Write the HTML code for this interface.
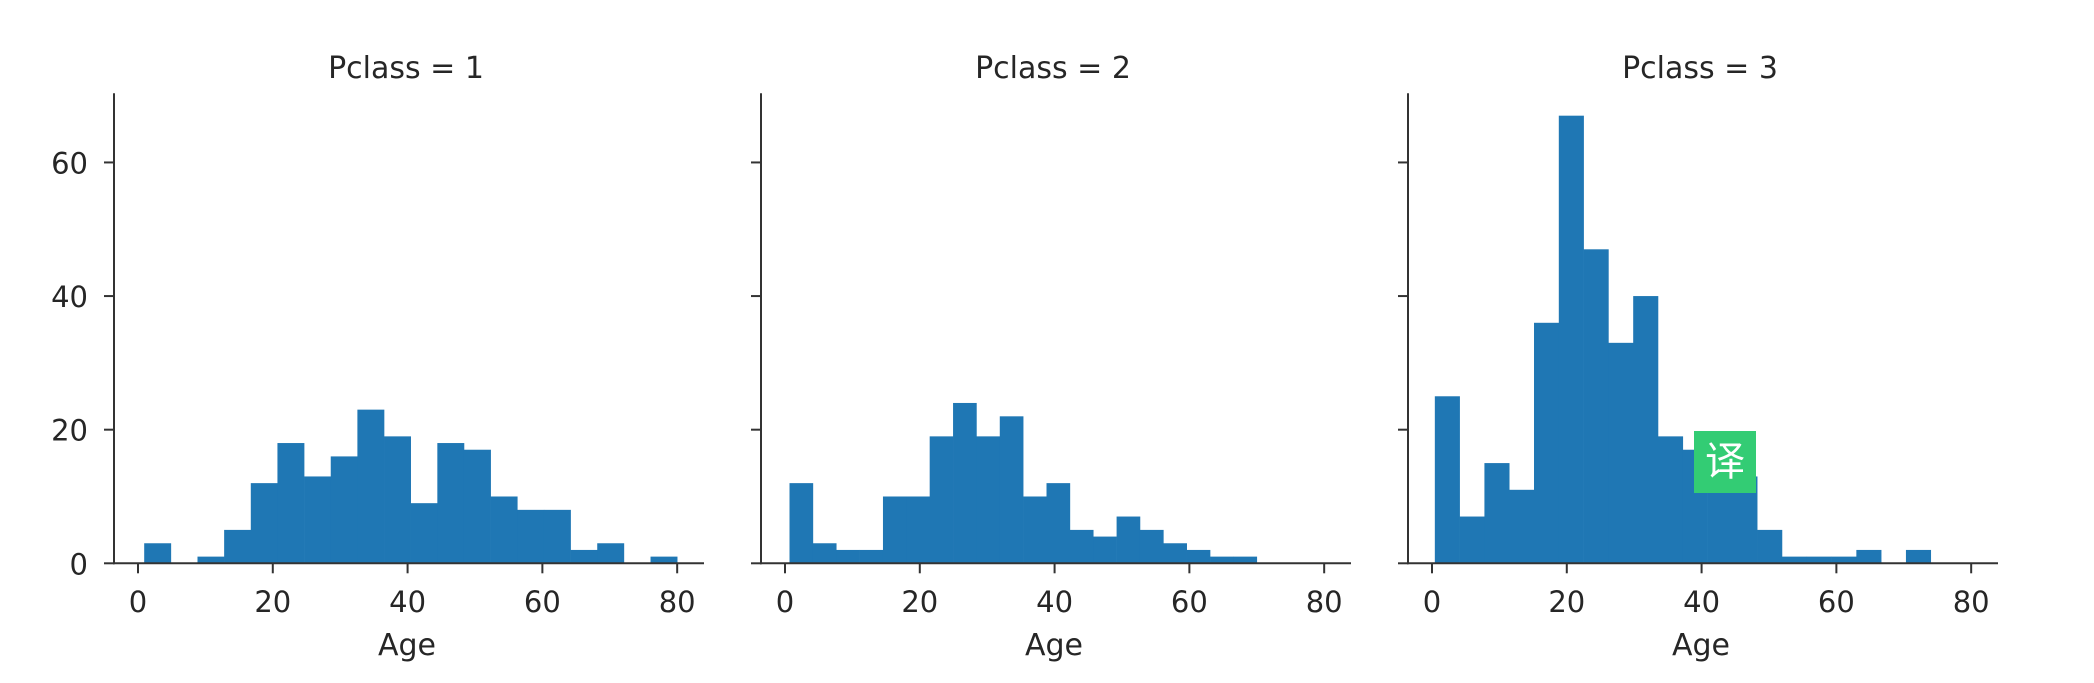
<!DOCTYPE html>
<html>
<head>
<meta charset="utf-8">
<style>
  html, body { margin: 0; padding: 0; background: #fff; }
  body { width: 2094px; height: 678px; overflow: hidden; position: relative; }
  svg text { font-family: "DejaVu Sans", "Liberation Sans", sans-serif; fill: #262626; }
  #badge { position: absolute; left: 1694px; top: 431px; width: 62px; height: 62px; background: #33cc74;
           color: #fff; font-family: "Liberation Sans", "Noto Sans CJK SC", sans-serif; font-size: 40px;
           line-height: 62px; text-align: center; }
</style>
</head>
<body>
<svg id="chart" width="2094" height="678" xmlns="http://www.w3.org/2000/svg"></svg>
<div id="badge">译</div>
<script>
// ---- data ----
const panelTitles = ["Pclass = 1", "Pclass = 2", "Pclass = 3"];
const binMin = [0.92, 0.67, 0.42];
const binMax = [80, 70, 74];
const counts1 = [3, 0, 1, 5, 12, 18, 13, 16, 23, 19, 9, 18, 17, 10, 8, 8, 2, 3, 0, 1];
const counts2 = [12, 3, 2, 2, 10, 10, 19, 24, 19, 22, 10, 12, 5, 4, 7, 5, 3, 2, 1, 1];
const counts3 = [25, 7, 15, 11, 36, 67, 47, 33, 40, 19, 17, 13, 13, 5, 1, 1, 1, 2, 0, 2];
const xTicks = [0, 20, 40, 60, 80];
const yTicks = [0, 20, 40, 60];
const xLabel = "Age";

// ---- layout ----
const allCounts = [counts1, counts2, counts3];
const NS = "http://www.w3.org/2000/svg";
const svg = document.getElementById("chart");
const panelLeft = [114, 761, 1408];
const axW = 590, baseY = 563.3, topY = 93.3;
const xMin = -3.56, xMax = 83.98;
const yMaxVal = Math.max(...allCounts.flat()) * 1.05;
function mk(tag, attrs) { const e = document.createElementNS(NS, tag); for (const k in attrs) e.setAttribute(k, attrs[k]); svg.appendChild(e); return e; }
function yScale(v) { return baseY - v / yMaxVal * (baseY - topY); }

allCounts.forEach((counts, p) => {
  const L = panelLeft[p];
  const xScale = v => L + (v - xMin) / (xMax - xMin) * axW;
  const bw = (binMax[p] - binMin[p]) / counts.length;
  counts.forEach((c, i) => {
    if (c <= 0) return;
    const x0 = xScale(binMin[p] + i * bw), x1 = xScale(binMin[p] + (i + 1) * bw);
    const r = mk("rect", { x: x0, y: yScale(c), width: x1 - x0 + 0.3, height: baseY - yScale(c), fill: "#1f77b4" });
    
    
  });
  // spines
  const ys = mk("line", { x1: L, y1: topY, x2: L, y2: baseY + 1, stroke: "#333", "stroke-width": 2 });
  
  
  const xs = mk("line", { x1: L - 1, y1: baseY, x2: L + axW, y2: baseY, stroke: "#333", "stroke-width": 2 });
  
  
  // x ticks
  xTicks.forEach(t => {
    const x = xScale(t);
    const tk = mk("line", { x1: x, y1: baseY, x2: x, y2: baseY + 10, stroke: "#333", "stroke-width": 2 });
    
    
    const tl = mk("text", { x: x, y: 612, "font-size": 29, "text-anchor": "middle" });
    tl.textContent = t;
    
    
  });
  // y ticks
  yTicks.forEach(t => {
    const y = yScale(t);
    const tk = mk("line", { x1: L - 10, y1: y, x2: L, y2: y, stroke: "#333", "stroke-width": 2 });
    
    
    if (p === 0) {
      const tl = mk("text", { x: L - 26, y: y + 11, "font-size": 29, "text-anchor": "end" });
      tl.textContent = t;
      
      
    }
  });
  const title = mk("text", { x: L + axW / 2 - 3, y: 78, "font-size": 30, "text-anchor": "middle" });
  title.textContent = panelTitles[p];
  
  
  const xl = mk("text", { x: L + axW / 2 - 2, y: 655, "font-size": 30, "text-anchor": "middle" });
  xl.textContent = xLabel;
  
  
});
</script>
</body>
</html>
